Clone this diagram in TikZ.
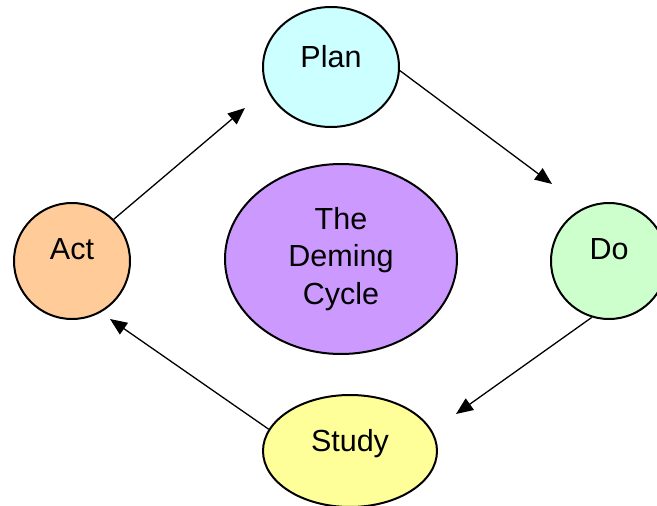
\documentclass[tikz,border=0pt]{standalone}
\usepackage{fontspec}
\setmainfont{Liberation Sans}
\usetikzlibrary{arrows.meta,shapes.geometric}
\definecolor{planc}{HTML}{CCFFFF}
\definecolor{doc}{HTML}{CCFFCC}
\definecolor{studyc}{HTML}{FFFF99}
\definecolor{actc}{HTML}{FFCC99}
\definecolor{demc}{HTML}{CC99FF}
\begin{document}
\begin{tikzpicture}[x=1pt,y=-1pt,
  stage/.style={ellipse,draw=black,line width=2pt,inner sep=0pt,
    font=\fontsize{30.5}{37.5}\selectfont},
  flow/.style={line width=1.3pt,-{Triangle[length=17pt,width=14pt]}}]
\useasboundingbox (0,0) rectangle (657,506);
\node[stage,fill=planc,minimum width=136pt,minimum height=120pt] (plan) at (331,67) {\raisebox{22pt}{Plan}};
\node[stage,fill=doc,minimum width=116pt,minimum height=116pt] (do) at (609,261) {\raisebox{23pt}{Do}};
\node[stage,fill=studyc,minimum width=174pt,minimum height=112pt] (study) at (350,451) {\raisebox{22pt}{Study}};
\node[stage,fill=actc,minimum width=116pt,minimum height=116pt] (act) at (72,261) {\raisebox{23pt}{Act}};
\node[stage,fill=demc,minimum width=232pt,minimum height=190pt,align=center] (deming) at (341,259) {The\\Deming\\Cycle};
\coordinate (tdo) at (552,184);
\coordinate (tstudy) at (456,414);
\coordinate (tact) at (110,319);
\coordinate (tplan) at (245,108);
\draw[flow] (plan.-3) -- (tdo);
\draw[flow] (do.253) -- (tstudy);
\draw[flow] (study.165) -- (tact);
\draw[flow] (act.45) -- (tplan);
\end{tikzpicture}
\end{document}
